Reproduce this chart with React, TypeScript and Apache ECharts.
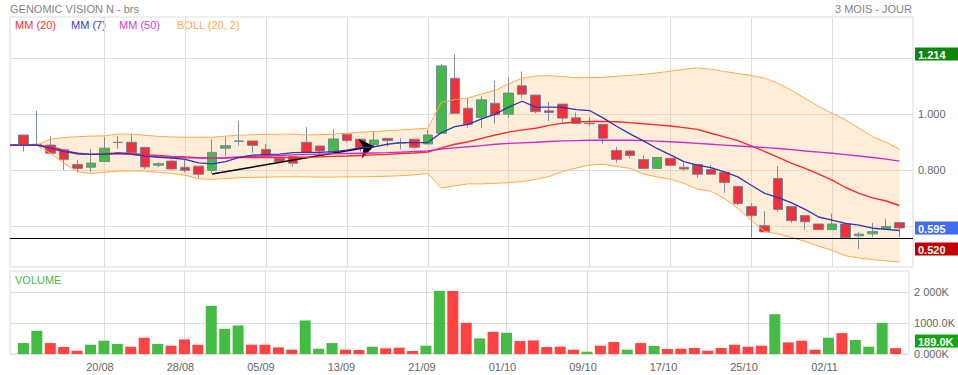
import React, { useEffect, useRef } from 'react';
import * as echarts from 'echarts';

const TITLE = 'GENOMIC VISION N - brs';
const PERIOD = '3 MOIS - JOUR';

const DATES = [
  '10/08', '13/08', '14/08', '15/08', '16/08', '17/08', '20/08', '21/08', '22/08', '23/08', '24/08', '27/08', '28/08', '29/08', '30/08', '31/08',
  '03/09', '04/09', '05/09', '06/09', '07/09', '10/09', '11/09', '12/09', '13/09', '14/09', '17/09', '18/09', '19/09', '20/09', '21/09', '24/09', '25/09', '26/09', '27/09', '28/09',
  '01/10', '02/10', '03/10', '04/10', '05/10', '08/10', '09/10', '10/10', '11/10', '12/10', '15/10', '16/10', '17/10', '18/10', '19/10', '22/10', '23/10', '24/10', '25/10', '26/10', '29/10', '30/10', '31/10',
  '01/11', '02/11', '05/11', '06/11', '07/11', '08/11', '09/11',
];
const LABEL_DATES = ['20/08', '28/08', '05/09', '13/09', '21/09', '01/10', '09/10', '17/10', '25/10', '02/11'];

const OPEN = [
  0.926, 0.893, 0.890, 0.873, 0.821, 0.811, 0.832, 0.899, 0.900, 0.882, 0.818, 0.833, 0.811, 0.815, 0.800, 0.879,
  0.903, 0.905, 0.875, 0.843, 0.849, 0.900, 0.887, 0.864, 0.929, 0.911, 0.891, 0.914, 0.897, 0.911, 0.894, 0.932, 1.128, 1.021, 0.988, 1.039,
  1.000, 1.101, 1.068, 1.012, 1.036, 0.987, 0.966, 0.964, 0.871, 0.869, 0.839, 0.807, 0.843, 0.811, 0.821, 0.803, 0.793, 0.743, 0.671, 0.603, 0.771, 0.671, 0.639,
  0.609, 0.589, 0.609, 0.567, 0.574, 0.592, 0.614,
];
const CLOSE = [
  0.890, 0.890, 0.861, 0.839, 0.807, 0.826, 0.879, 0.900, 0.864, 0.812, 0.824, 0.805, 0.800, 0.786, 0.864, 0.888,
  0.905, 0.889, 0.851, 0.831, 0.825, 0.864, 0.869, 0.912, 0.906, 0.881, 0.908, 0.906, 0.898, 0.882, 0.926, 1.172, 1.003, 0.964, 1.051, 0.998,
  1.075, 1.071, 1.009, 1.006, 0.986, 0.967, 0.968, 0.914, 0.839, 0.853, 0.807, 0.846, 0.818, 0.805, 0.786, 0.786, 0.757, 0.682, 0.639, 0.581, 0.661, 0.621, 0.617,
  0.589, 0.609, 0.561, 0.573, 0.582, 0.600, 0.595,
];
const LOW = [
  0.867, 0.890, 0.861, 0.801, 0.795, 0.795, 0.832, 0.877, 0.864, 0.804, 0.812, 0.801, 0.792, 0.774, 0.789, 0.852,
  0.889, 0.863, 0.851, 0.826, 0.813, 0.864, 0.851, 0.864, 0.900, 0.867, 0.880, 0.885, 0.875, 0.878, 0.894, 0.932, 1.003, 0.952, 0.950, 0.967,
  0.986, 1.059, 1.003, 0.976, 0.974, 0.967, 0.958, 0.896, 0.827, 0.842, 0.807, 0.807, 0.818, 0.799, 0.774, 0.786, 0.720, 0.676, 0.556, 0.581, 0.652, 0.613, 0.589,
  0.589, 0.589, 0.561, 0.520, 0.563, 0.592, 0.563,
];
const HIGH = [
  0.926, 1.012, 0.923, 0.873, 0.837, 0.876, 0.918, 0.923, 0.930, 0.882, 0.830, 0.839, 0.837, 0.815, 0.911, 0.920,
  0.976, 0.905, 0.894, 0.843, 0.849, 0.954, 0.887, 0.946, 0.929, 0.911, 0.938, 0.914, 0.914, 0.911, 0.944, 1.179, 1.214, 1.057, 1.063, 1.119,
  1.132, 1.152, 1.068, 1.043, 1.036, 1.006, 0.988, 0.964, 0.884, 0.872, 0.853, 0.846, 0.843, 0.827, 0.821, 0.819, 0.793, 0.743, 0.682, 0.655, 0.815, 0.671, 0.639,
  0.609, 0.646, 0.609, 0.581, 0.613, 0.628, 0.614,
];

// thousands of shares
const VOLUME_K = [
  355, 752, 355, 226, 107, 300, 430, 323, 237, 527, 323, 269, 473, 300, 1559, 817,
  925, 300, 300, 215, 140, 1086, 172, 355, 140, 130, 237, 183, 204, 97, 269, 2043, 2043, 1010, 505, 720,
  688, 419, 441, 226, 237, 140, 75, 269, 387, 140, 355, 258, 161, 172, 194, 107, 194, 300, 237, 269, 1290, 376, 430,
  140, 527, 677, 452, 237, 1010, 189,
];
const VOLUME_UP = [
  1, 1, 0, 0, 0, 1, 1, 1, 0, 0, 1, 0, 0, 0, 1, 1,
  1, 0, 0, 0, 0, 1, 1, 1, 0, 0, 1, 0, 0, 0, 1, 1, 0, 0, 1, 0,
  1, 0, 0, 0, 0, 0, 1, 0, 0, 1, 0, 1, 0, 0, 0, 0, 0, 0, 0, 0, 1, 0, 0,
  0, 1, 0, 1, 1, 1, 0,
];

const LINE_LEAD = 0.890;
const MM7 = [
  0.890, 0.890, 0.879, 0.867, 0.861, 0.857, 0.857, 0.861, 0.858, 0.851, 0.846, 0.844, 0.839, 0.827, 0.823, 0.831,
  0.846, 0.854, 0.857, 0.858, 0.863, 0.864, 0.864, 0.867, 0.872, 0.881, 0.884, 0.893, 0.899, 0.899, 0.899, 0.934, 0.956, 0.964, 0.983, 1.000,
  1.025, 1.046, 1.025, 1.025, 1.024, 1.016, 1.013, 0.987, 0.957, 0.930, 0.905, 0.878, 0.855, 0.831, 0.819, 0.810, 0.795, 0.777, 0.747, 0.718, 0.703, 0.684, 0.661,
  0.634, 0.623, 0.611, 0.605, 0.594, 0.590, 0.586,
];
const MM20 = [
  0.890, 0.890, 0.884, 0.872, 0.860, 0.857, 0.859, 0.862, 0.861, 0.856, 0.853, 0.850, 0.848, 0.845, 0.843, 0.844,
  0.846, 0.846, 0.846, 0.846, 0.846, 0.847, 0.848, 0.850, 0.851, 0.853, 0.855, 0.857, 0.860, 0.862, 0.865, 0.880, 0.893, 0.902, 0.914, 0.926,
  0.936, 0.944, 0.950, 0.960, 0.968, 0.972, 0.974, 0.974, 0.973, 0.970, 0.966, 0.962, 0.958, 0.952, 0.946, 0.932, 0.919, 0.906, 0.887, 0.867, 0.846, 0.825, 0.807,
  0.787, 0.765, 0.739, 0.718, 0.702, 0.691, 0.675,
];
const MM50 = [
  0.890, 0.890, 0.879, 0.870, 0.858, 0.857, 0.858, 0.860, 0.857, 0.852, 0.849, 0.847, 0.845, 0.844, 0.843, 0.845,
  0.848, 0.850, 0.851, 0.853, 0.855, 0.857, 0.858, 0.859, 0.860, 0.861, 0.862, 0.863, 0.865, 0.867, 0.869, 0.876, 0.880, 0.884, 0.888, 0.893,
  0.896, 0.898, 0.900, 0.903, 0.905, 0.906, 0.907, 0.907, 0.907, 0.907, 0.906, 0.904, 0.902, 0.899, 0.896, 0.893, 0.890, 0.887, 0.884, 0.881, 0.878, 0.874, 0.869,
  0.865, 0.861, 0.856, 0.851, 0.846, 0.840, 0.833,
];
const BOLL_UPPER = [
  0.890, 0.890, 0.911, 0.917, 0.920, 0.922, 0.923, 0.929, 0.929, 0.925, 0.921, 0.919, 0.918, 0.918, 0.918, 0.922,
  0.925, 0.927, 0.928, 0.929, 0.929, 0.926, 0.927, 0.929, 0.932, 0.936, 0.938, 0.941, 0.944, 0.947, 0.950, 1.042, 1.052, 1.058, 1.072, 1.085,
  1.108, 1.128, 1.136, 1.137, 1.134, 1.130, 1.130, 1.131, 1.135, 1.138, 1.142, 1.147, 1.153, 1.160, 1.165, 1.160, 1.152, 1.145, 1.138, 1.128, 1.110, 1.085, 1.056,
  1.028, 1.003, 0.980, 0.950, 0.920, 0.900, 0.875,
];
const BOLL_LOWER = [
  0.890, 0.890, 0.861, 0.825, 0.795, 0.789, 0.793, 0.797, 0.798, 0.797, 0.793, 0.789, 0.783, 0.770, 0.768, 0.771,
  0.774, 0.775, 0.776, 0.777, 0.777, 0.777, 0.776, 0.776, 0.777, 0.777, 0.778, 0.779, 0.781, 0.784, 0.789, 0.737, 0.745, 0.752, 0.752, 0.754,
  0.756, 0.760, 0.768, 0.778, 0.796, 0.808, 0.819, 0.822, 0.814, 0.807, 0.787, 0.777, 0.768, 0.754, 0.733, 0.726, 0.700, 0.664, 0.622, 0.583, 0.573, 0.561, 0.547,
  0.530, 0.515, 0.496, 0.488, 0.482, 0.478, 0.474,
];

const PRICE_GRID_TICKS = [0.6, 0.8, 1.0, 1.2];
const PRICE_LABEL_TICKS = [0.8, 1.0];
const VOLUME_TICKS = [0, 1000000, 2000000];
const VOLUME_TICK_LABELS = ['0.000K', '1000.0K', '2 000K'];

const SUPPORT_LEVEL = 0.555;
const TREND_FROM: [string, number] = ['30/08', 0.787];
const TREND_TO: [string, number] = ['17/09', 0.886];

const LEGEND = [
  { text: 'MM (20)', color: '#ff2f2f', x: 15 },
  { text: 'MM (7)', color: '#3a3ac8', x: 71 },
  { text: 'MM (50)', color: '#d23cd2', x: 119 },
  { text: 'BOLL (20, 2)', color: '#ffaa50', x: 177 },
];

const FONT = '"Liberation Sans", Arial, Helvetica, sans-serif';
const UP = '#44bb44';
const DOWN = '#f2303c';
const GRID_COLOR = '#dddddd';

function baseGraphics(): any[] {
  return [
    { type: 'text', x: 10, y: 9, style: { text: TITLE, fill: '#858585', fontSize: 11, fontFamily: FONT, verticalAlign: 'middle', align: 'left' } },
    { type: 'text', x: 912, y: 9, style: { text: PERIOD, fill: '#858585', fontSize: 11, fontFamily: FONT, verticalAlign: 'middle', align: 'right' } },
    ...LEGEND.map((l) => ({ type: 'text', x: l.x, y: 25, style: { text: l.text, fill: l.color, fontSize: 11, fontFamily: FONT, verticalAlign: 'middle', align: 'left' } })),
    { type: 'text', x: 15, y: 280, style: { text: 'VOLUME', fill: '#44bb44', fontSize: 11, fontFamily: FONT, verticalAlign: 'middle', align: 'left' } },
  ];
}

function tagGraphic(y: number, text: string, bg: string) {
  return {
    type: 'group',
    x: 915,
    y: Math.round(y) - 6.5,
    z: 100,
    children: [
      { type: 'rect', shape: { x: 0, y: 0, width: 43, height: 13 }, style: { fill: bg } },
      { type: 'text', x: 3, y: 7, style: { text, fill: '#ffffff', fontSize: 11, fontWeight: 'bold', fontFamily: FONT, verticalAlign: 'middle', align: 'left' } },
    ],
  };
}

function buildOption() {
  const cats = ['pre', ...DATES, 'post'];
  const isLabel = (_i: number, v: string) => LABEL_DATES.indexOf(v) >= 0;
  const padLine = (arr: number[]) => [LINE_LEAD, ...arr, '-'];

  const lineSeries = (name: string, data: any[], color: string, width: number, z: number) => ({
    name,
    type: 'line',
    xAxisIndex: 0,
    yAxisIndex: 0,
    data,
    symbol: 'none',
    showSymbol: false,
    smooth: false,
    lineStyle: { color, width },
    z,
    silent: true,
  });

  return {
    animation: false,
    backgroundColor: '#ffffff',
    textStyle: { fontFamily: FONT },
    grid: [
      { left: 10, right: 45, top: 17, height: 250, show: true, borderColor: GRID_COLOR, borderWidth: 1, backgroundColor: 'transparent' },
      { left: 10, right: 45, top: 271, height: 83, show: true, borderColor: GRID_COLOR, borderWidth: 1, backgroundColor: 'transparent' },
    ],
    xAxis: [
      {
        type: 'category', gridIndex: 0, data: cats, boundaryGap: false,
        axisLine: { show: false }, axisTick: { show: false }, axisLabel: { show: false },
        splitLine: { show: true, interval: isLabel, lineStyle: { color: GRID_COLOR, width: 1 } },
      },
      {
        type: 'category', gridIndex: 1, data: cats, boundaryGap: false,
        axisLine: { show: false }, axisTick: { show: false },
        axisLabel: { show: true, interval: isLabel, color: '#666666', fontSize: 11, fontFamily: FONT, margin: 7, padding: [0, 8, 0, 0] },
        splitLine: { show: true, interval: isLabel, lineStyle: { color: GRID_COLOR, width: 1 } },
      },
    ],
    yAxis: [
      {
        type: 'value', gridIndex: 0, position: 'right', min: 0.456, max: 1.346, scale: true,
        axisLine: { show: false },
        axisTick: { show: false, customValues: PRICE_GRID_TICKS },
        axisLabel: { show: true, customValues: PRICE_LABEL_TICKS, formatter: (v: number) => v.toFixed(3), color: '#666666', fontSize: 11, fontFamily: FONT, margin: 5 },
        splitLine: { show: true, lineStyle: { color: GRID_COLOR, width: 1 } },
      },
      {
        type: 'value', gridIndex: 1, position: 'right', min: 0, max: 2690000,
        axisLine: { show: false },
        axisTick: { show: false, customValues: VOLUME_TICKS },
        axisLabel: {
          show: true, customValues: VOLUME_TICKS,
          formatter: (v: number) => VOLUME_TICK_LABELS[VOLUME_TICKS.indexOf(v)] ?? '',
          color: '#666666', fontSize: 11, fontFamily: FONT, margin: 5,
        },
        splitLine: { show: true, lineStyle: { color: GRID_COLOR, width: 1 } },
      },
    ],
    graphic: baseGraphics(),
    series: [
      {
        name: 'bollBase', type: 'line', stack: 'boll', xAxisIndex: 0, yAxisIndex: 0,
        data: padLine(BOLL_LOWER), symbol: 'none', lineStyle: { opacity: 0, width: 0 }, z: 1, silent: true,
      },
      {
        name: 'bollBand', type: 'line', stack: 'boll', xAxisIndex: 0, yAxisIndex: 0,
        data: [0, ...BOLL_UPPER.map((u, i) => +(u - BOLL_LOWER[i]).toFixed(4)), '-'],
        symbol: 'none', lineStyle: { opacity: 0, width: 0 },
        areaStyle: { color: 'rgba(250, 196, 130, 0.3)', opacity: 1 }, z: 1, silent: true,
      },
      {
        name: 'Prix', type: 'candlestick', xAxisIndex: 0, yAxisIndex: 0, z: 3, silent: true,
        barWidth: 10,
        data: ['-', ...DATES.map((_, i) => [OPEN[i], CLOSE[i], LOW[i], HIGH[i]]), '-'],
        itemStyle: {
          color: UP, color0: DOWN,
          borderColor: 'rgba(112,132,152,0.9)', borderColor0: 'rgba(112,132,152,0.9)', borderColorDoji: 'rgba(112,132,152,0.9)',
          borderWidth: 1,
        },
        markLine: {
          silent: true, animation: false, symbol: 'none',
          label: { show: false },
          data: [
            [
              { coord: TREND_FROM, symbol: 'none', lineStyle: { color: '#000000', width: 1.5, type: 'solid' } },
              { coord: TREND_TO, symbol: 'arrow', symbolSize: [15, 14] },
            ],
            { yAxis: SUPPORT_LEVEL, lineStyle: { color: '#000000', width: 1, type: 'solid' }, label: { show: false } },
          ],
        },
      },
      lineSeries('BOLL sup', padLine(BOLL_UPPER), '#ffaa4a', 1, 4),
      lineSeries('BOLL inf', padLine(BOLL_LOWER), '#ffaa4a', 1, 4),
      lineSeries('MM (20)', padLine(MM20), '#ff2a2a', 1.4, 5),
      lineSeries('MM (50)', padLine(MM50), '#cc2ccc', 1.4, 5),
      lineSeries('MM (7)', padLine(MM7), '#3434b4', 1.3, 6),
      {
        name: 'Volume', type: 'bar', xAxisIndex: 1, yAxisIndex: 1, barWidth: 11, silent: true, z: 3,
        data: ['-', ...VOLUME_K.map((v, i) => ({ value: v * 1000, itemStyle: { color: VOLUME_UP[i] ? UP : '#ff4242' } })), '-'],
      },
    ],
  };
}

export default function App() {
  const ref = useRef<HTMLDivElement>(null);
  useEffect(() => {
    if (!ref.current) return;
    const chart = echarts.init(ref.current, undefined, { renderer: 'svg' });
    chart.setOption(buildOption() as any);

    const maxHigh = Math.max(...HIGH);
    const minLow = Math.min(...LOW);
    const lastClose = CLOSE[CLOSE.length - 1];
    const lastVol = VOLUME_K[VOLUME_K.length - 1];
    const py = (v: number) => chart.convertToPixel({ yAxisIndex: 0 } as any, v) as number;
    const vy = (v: number) => chart.convertToPixel({ yAxisIndex: 1 } as any, v) as number;
    chart.setOption({
      graphic: [
        ...baseGraphics(),
        tagGraphic(py(maxHigh), maxHigh.toFixed(3), '#0b870b'),
        tagGraphic(py(lastClose), lastClose.toFixed(3), '#3f6cf0'),
        tagGraphic(py(minLow), minLow.toFixed(3), '#c00000'),
        tagGraphic(vy(lastVol * 1000) - 7, lastVol.toFixed(1) + 'K', '#10a510'),
      ],
    } as any);
    return () => chart.dispose();
  }, []);
  return <div ref={ref} style={{ position: 'fixed', left: 0, top: 0, width: 958, height: 375, background: '#fff' }} />;
}
